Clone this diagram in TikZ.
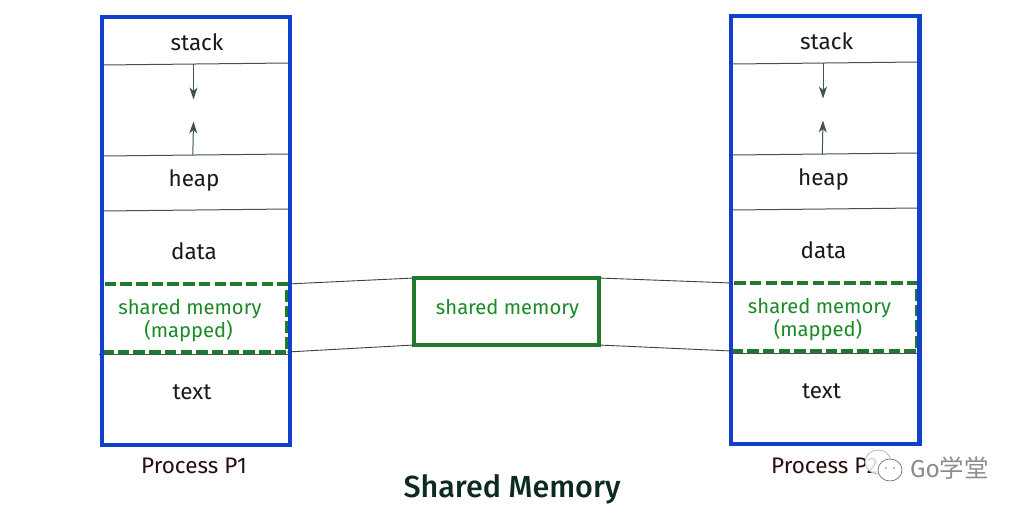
\documentclass[tikz,border=0pt]{standalone}
\usepackage{fontspec}
\setmainfont{Fira Sans}
\newfontfamily\titlefont{Fira Sans Medium}
\newfontfamily\cjk{Noto Sans CJK SC}
\usepackage{tikz}
\usetikzlibrary{positioning,arrows.meta}
\definecolor{procblue}{HTML}{1040CC}
\definecolor{shmbox}{HTML}{1F7A2E}
\definecolor{shmtext}{HTML}{1A8A24}
\definecolor{divline}{HTML}{3F5450}
\definecolor{titlecol}{HTML}{0C2A20}
\definecolor{proccol}{HTML}{2A0C0C}
\tikzset{
  seg/.style={font=\fontsize{22.5}{26}\selectfont, text=black!90, inner sep=0pt},
  shmlabel/.style={font=\fontsize{20.2}{24}\selectfont, text=shmtext, align=center, inner sep=0pt},
  procname/.style={font=\fontsize{22.5}{26}\selectfont, text=proccol, inner sep=0pt},
  procbox/.style={draw=procblue, line width=4.2pt, minimum width=188.4pt, minimum height=428pt, inner sep=0pt, outer sep=0pt},
  shmdash/.style={draw=shmbox, line width=3.6pt, dash pattern=on 11.5pt off 4.2pt, minimum width=185pt, minimum height=68pt, inner sep=0pt, outer sep=0pt},
  shmsolid/.style={draw=shmbox, line width=3.6pt, fill=white, minimum width=185pt, minimum height=67pt, inner sep=0pt, outer sep=0pt},
  divider/.style={draw=divline, line width=1pt},
  tiepath/.style={draw=black!75, line width=0.9pt},
  growarrow/.style={draw=divline, line width=1pt, -{Stealth[length=12pt,width=8pt,inset=3.5pt]}},
}
\begin{document}
\begin{tikzpicture}[x=1pt, y=-1pt]

  \useasboundingbox (0,0) rectangle (1024,512);

  % one address space per process, the second sits a bit higher
  \foreach \P/\DX/\DY in {A/0/0, B/629.5/-1} {
    \begin{scope}[shift={(\DX,\DY)}]

      \coordinate (stackL\P) at (102.5,65);
      \coordinate (stackR\P) at (288.5,63);
      \coordinate (heapL\P) at (102.5,156);
      \coordinate (heapR\P) at (288.5,154);
      \coordinate (dataL\P) at (102.5,211);
      \coordinate (dataR\P) at (288.5,209);
      \coordinate (downtip\P) at (193.5,99.5);
      \coordinate (downtail\P) at (193.5,64);
      \coordinate (uptip\P) at (193.5,121.5);
      \coordinate (uptail\P) at (192.8,155);

      \draw[divider] (stackL\P) -- (stackR\P);
      \draw[divider] (heapL\P) -- (heapR\P);
      \draw[divider] (dataL\P) -- (dataR\P);
      \draw[growarrow] (downtail\P) -- (downtip\P);
      \draw[growarrow] (uptail\P) -- (uptip\P);

      \node[seg] (stack\P) at (197,42) {stack};
      \node[seg] (heap\P) at (194,180) {heap};
      \node[seg] (data\P) at (194,251) {data};
      \node[seg] (text\P) at (192,392.5) {text};

      \coordinate (shmfootL\P) at (99,354);
      \coordinate (shmfootR\P) at (288.5,354);
      \draw[divider] (shmfootL\P) -- (shmfootR\P);

      \node[shmdash] (shm\P) at (194.5,318) {};
      \node[shmlabel] (shmtxt\P) at (190,309.5) {shared memory};
      \node[shmlabel] (mapped\P) at (188.5,331.5) {(mapped)};

      \node[procbox] (box\P) at (195.8,231.2) {};

    \end{scope}
  }

  \node[shmsolid] (shm) at (506.5,311.5) {};
  \node[shmlabel] (shmtxt) at (507.5,309.5) {shared memory};

  \draw[tiepath] (shmA.north east) -- (shm.north west);
  \draw[tiepath] (shmA.south east) -- (shm.south west);
  \draw[tiepath] (shm.north east) -- (shmB.north west);
  \draw[tiepath] (shm.south east) -- (shmB.south west);

  \node[procname] (nameA) at (194,466) {Process P1};
  \node[procname, anchor=west] (nameB) at (771,466) {Process P2};
  \node[seg, text=titlecol, font=\fontsize{30.5}{35}\titlefont] (title) at (512,489.5) {Shared Memory};

  % watermark over the second name
  \draw[black!30, fill=white, fill opacity=0.85, line width=0.7pt] (878,462) ellipse (13pt and 12pt);
  \draw[black!55, fill=white, line width=0.7pt] (890,470) ellipse (12pt and 11pt);
  \fill[black!55] (886,468) circle (0.8pt) (894,468) circle (0.8pt);
  \node[seg, text=black!45, font=\fontsize{24.5}{28}\selectfont, anchor=west] (mark) at (910,468) {Go{\cjk 学堂}};

\end{tikzpicture}
\end{document}
